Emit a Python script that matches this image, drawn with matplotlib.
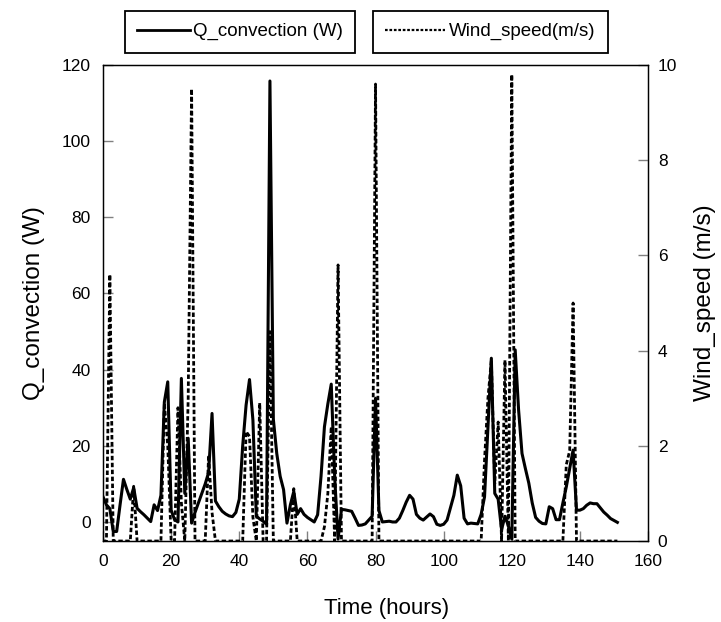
import numpy as np
import matplotlib
matplotlib.use("Agg")
import matplotlib.pyplot as plt
from matplotlib.lines import Line2D

plt.rcParams['font.family'] = ['Liberation Sans', 'DejaVu Sans']

# hourly readings, t = 0 .. 151 h
hours = np.arange(152)

q_convection = [
    6.6, 4.5, 3.5, -2.5, -2.5, 4.5, 11.2, 8.5, 6.0, 9.0,
    3.6, 2.7, 1.9, 1.0, 0.1, 4.5, 3.0, 7.0, 31.5, 36.8,
    3.1, 0.6, 0.0, 37.7, 7.5, 22.0, -0.3, 2.5, 5.0, 7.5,
    10.0, 13.0, 28.5, 5.5, 4.0, 2.8, 2.1, 1.6, 1.4, 2.5,
    6.0, 20.0, 30.7, 37.4, 26.8, 1.5, 0.8, 0.2, -0.6, 115.8,
    27.0, 18.0, 12.0, 8.5, -0.3, 4.5, 8.0, 2.0, 3.5, 2.0,
    1.2, 0.6, 0.0, 1.9, 12.0, 25.0, 31.0, 36.2, 12.0, -4.5,
    3.3, 3.2, 3.0, 2.8, 1.0, -0.9, -0.8, -0.5, 0.5, 1.5,
    32.5, 3.0, 0.0, 0.1, 0.2, 0.0, 0.0, 1.0, 3.0, 5.2,
    7.0, 6.0, 2.0, 1.0, 0.5, 1.3, 2.1, 1.4, -0.6, -0.9,
    -0.6, 0.5, 3.7, 7.0, 12.3, 9.5, 1.0, -0.5, -0.3, -0.4,
    -0.5, 2.0, 6.6, 25.0, 43.0, 7.5, 6.0, -2.0, 1.5, -1.0,
    -4.5, 45.2, 29.4, 18.0, 14.0, 10.2, 5.0, 1.2, 0.2, -0.4,
    -0.5, 4.0, 3.5, 0.6, 0.6, 5.0, 9.2, 14.0, 18.9, 3.1,
    3.1, 3.5, 4.4, 5.0, 4.8, 4.8, 3.7, 2.6, 1.8, 0.9,
    0.4, -0.1,
]

# wind speed is zero except for these hours
wind_hours = [2, 9, 18, 19, 22, 23, 25, 26, 31, 32, 42, 43, 44, 46, 49, 56,
              65, 66, 67, 69, 80, 112, 113, 114, 115, 116, 118, 120,
              136, 137, 138]
wind_values = [5.6, 1.15, 2.9, 2.0, 2.8, 0.8, 3.0, 9.5, 1.8, 0.6, 2.3, 2.2, 0.5, 2.9, 4.4, 1.1,
               0.3, 1.0, 2.4, 5.8, 9.6, 1.7, 3.0, 3.8, 1.2, 2.5, 3.8, 9.8,
               1.6, 1.9, 5.0]

wind_speed = np.zeros(len(hours))
wind_speed[wind_hours] = wind_values

fig = plt.figure(figsize=(7.21, 6.22), dpi=100)
ax = fig.add_axes([0.1429, 0.1302, 0.7559, 0.7653])
ax2 = ax.twinx()

dash = (0, (1.6, 0.9))
ax.plot(hours, q_convection, color='black', lw=2.2, zorder=3)
ax2.plot(hours, wind_speed, color='black', lw=2.0, linestyle=dash)

ax.set_xlim(0, 160)
ax.set_ylim(-5, 120)
ax2.set_ylim(0, 10)
ax.set_xticks(range(0, 161, 20))
ax.set_yticks(range(0, 121, 20))
ax2.set_yticks(range(0, 11, 2))

for a in (ax, ax2):
    a.tick_params(direction='in', length=7, width=1, color='#808080',
                  labelsize=12.5)
    for s in a.spines.values():
        s.set_linewidth(0.9)
ax.tick_params(axis='y', pad=9)
ax.tick_params(axis='x', pad=9)
ax2.tick_params(axis='y', pad=7)

ax.set_xlabel('Time (hours)', fontsize=16, labelpad=22)
ax.xaxis.set_label_coords(0.52, -0.12)
ax.set_ylabel('Q_convection (W)', fontsize=17.5, labelpad=12)
ax2.set_ylabel('Wind_speed (m/s)', fontsize=17.5, labelpad=12)

h1 = Line2D([], [], color='black', lw=2.0)
h2 = Line2D([], [], color='black', lw=1.6, linestyle=(0, (1.2, 0.8)))
leg_kw = dict(loc='center', fontsize=13.5, fancybox=False, edgecolor='black',
              framealpha=1, borderpad=0.65, handletextpad=0.2)
l1 = fig.legend([h1], ['Q_convection (W)'], bbox_to_anchor=(0.333, 0.949),
                handlelength=2.8, **leg_kw)
l2 = fig.legend([h2], ['Wind_speed(m/s)'], bbox_to_anchor=(0.680, 0.949),
                handlelength=3.2, **leg_kw)
for l in (l1, l2):
    l.get_frame().set_linewidth(1.3)

fig.savefig('out.png', dpi=100)
